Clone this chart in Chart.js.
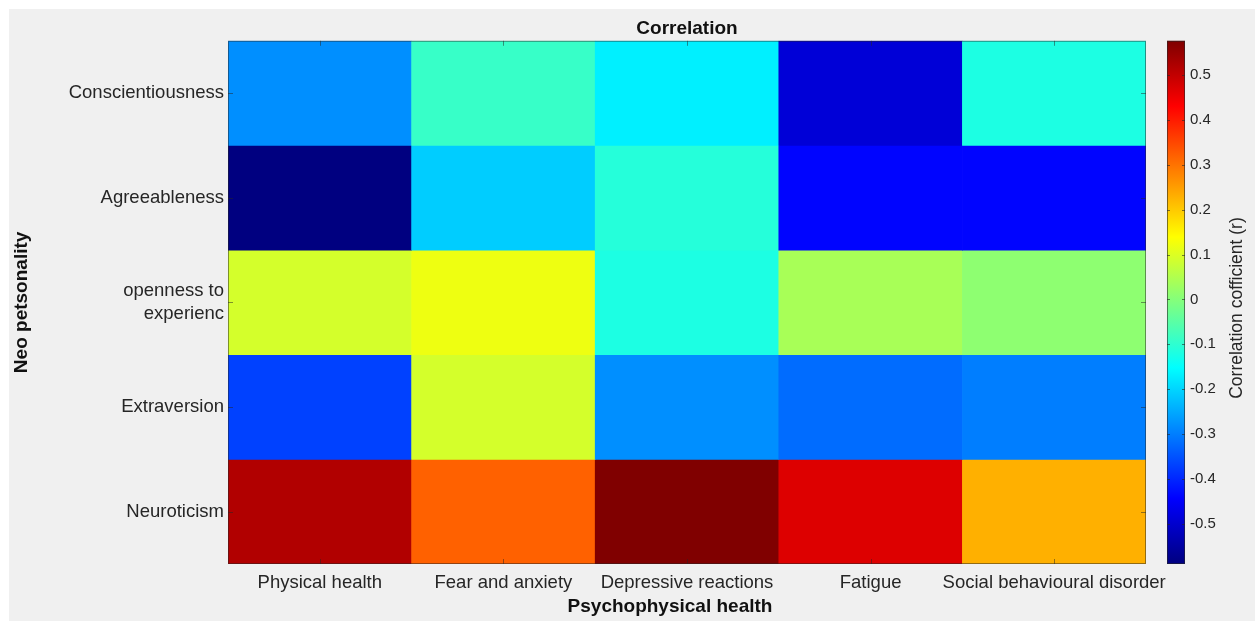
<!DOCTYPE html>
<html>
<head>
<meta charset="utf-8">
<script src="https://cdn.jsdelivr.net/npm/chart.js@4.4.1/dist/chart.umd.min.js"></script>
<style>
  html, body { margin: 0; padding: 0; background: #ffffff; }
  #panel { position: absolute; left: 9px; top: 9px; width: 1246px; height: 612px; background: #f0f0f0; }
  #wrap { position: absolute; left: 0; top: 0; width: 1255px; height: 621px; }
</style>
</head>
<body>
<div id="panel"></div>
<div id="wrap"><canvas id="chart" width="1255" height="621"></canvas></div>
<script>
// Psychophysical health dimensions (columns)
const columns = ["Physical health", "Fear and anxiety", "Depressive reactions", "Fatigue", "Social behavioural disorder"];
// Neo personality traits (rows, top to bottom)
const rowLabels = ["Conscientiousness", "Agreeableness", ["openness to", "experienc"], "Extraversion", "Neuroticism"];

// Correlation coefficients (r), one list per trait, in column order
const conscientiousness = [-0.28, -0.09, -0.17, -0.49, -0.12];
const agreeableness     = [-0.59, -0.21, -0.11, -0.44, -0.44];
const openness          = [ 0.09,  0.12, -0.12,  0.04,  0.01];
const extraversion      = [-0.37,  0.09, -0.28, -0.32, -0.30];
const neuroticism       = [ 0.52,  0.32,  0.577, 0.47,  0.23];

// Colour bar tick labels
const colorbarTicks = [-0.5, -0.4, -0.3, -0.2, -0.1, 0, 0.1, 0.2, 0.3, 0.4, 0.5];

const rowValues = [conscientiousness, agreeableness, openness, extraversion, neuroticism];
const allValues = rowValues.flat();
const cMin = Math.min(...allValues);
const cMax = Math.max(...allValues);

const FONT = "'Liberation Sans', Arial, Helvetica, sans-serif";
const TEXT = '#262626';

// MATLAB-style jet colormap
function jet(v) {
  const t = Math.max(0, Math.min(1, (v - cMin) / (cMax - cMin)));
  const c = x => Math.round(255 * Math.max(0, Math.min(1, x)));
  const r = c(1.5 - Math.abs(4 * t - 3));
  const g = c(1.5 - Math.abs(4 * t - 2));
  const b = c(1.5 - Math.abs(4 * t - 1));
  return `rgb(${r},${g},${b})`;
}

// Each trait is a floating bar band [4-i, 5-i] across every column
const datasets = rowValues.map((vals, i) => ({
  label: Array.isArray(rowLabels[i]) ? rowLabels[i].join(' ') : rowLabels[i],
  data: columns.map(() => [4 - i, 5 - i]),
  backgroundColor: vals.map(v => jet(v)),
  borderWidth: 0,
  grouped: false,
  barPercentage: 1,
  categoryPercentage: 1,
  yAxisID: 'y'
}));

function line(ctx, x0, y0, x1, y1) {
  ctx.beginPath(); ctx.moveTo(x0, y0); ctx.lineTo(x1, y1); ctx.stroke();
}

function noPadding(s) {
  s.paddingTop = 0; s.paddingBottom = 0; s.paddingLeft = 0; s.paddingRight = 0;
}

const decor = {
  id: 'decor',
  afterDatasetsDraw(chart) {
    const { ctx, chartArea: a, scales } = chart;
    ctx.save();
    // axes box and inward ticks
    ctx.strokeStyle = 'rgba(38,38,38,0.5)';
    ctx.lineWidth = 1;
    ctx.strokeRect(a.left + 0.5, a.top + 0.5, a.right - a.left - 1, a.bottom - a.top - 1);
    const tl = 5;
    columns.forEach((c, j) => {
      const x = Math.round(scales.x.getPixelForValue(j)) + 0.5;
      line(ctx, x, a.top, x, a.top + tl);
      line(ctx, x, a.bottom, x, a.bottom - tl);
    });
    rowLabels.forEach((r, i) => {
      const y = Math.round(scales.y.getPixelForValue(4.5 - i)) + 0.5;
      line(ctx, a.left, y, a.left + tl, y);
      line(ctx, a.right, y, a.right - tl, y);
    });

    // colour bar
    const cb = scales.cb;
    const x0 = 1167, x1 = 1185;
    const yTop = cb.getPixelForValue(cMax), yBot = cb.getPixelForValue(cMin);
    const grad = ctx.createLinearGradient(0, yBot, 0, yTop);
    for (let k = 0; k <= 128; k++) {
      const s = k / 128;
      grad.addColorStop(s, jet(cMin + s * (cMax - cMin)));
    }
    ctx.fillStyle = grad;
    ctx.fillRect(x0, yTop, x1 - x0, yBot - yTop);
    ctx.strokeStyle = 'rgba(38,38,38,0.6)';
    ctx.strokeRect(x0 + 0.5, yTop + 0.5, x1 - x0 - 1, yBot - yTop - 1);
    colorbarTicks.forEach(v => {
      const y = Math.round(cb.getPixelForValue(v)) + 0.5;
      line(ctx, x1, y, x1 - 3, y);
      line(ctx, x0, y, x0 + 3, y);
    });

    // colour bar title
    ctx.fillStyle = TEXT;
    ctx.font = `17.5px ${FONT}`;
    ctx.textAlign = 'center';
    ctx.textBaseline = 'middle';
    ctx.save();
    ctx.translate(1237, 308);
    ctx.rotate(-Math.PI / 2);
    ctx.fillText('Correlation cofficient (r)', 0, 0);
    ctx.restore();

    // x axis title
    ctx.fillStyle = '#111';
    ctx.font = `bold 19px ${FONT}`;
    ctx.fillText('Psychophysical health', 670, 607);
    ctx.restore();
  }
};

new Chart(document.getElementById('chart'), {
  type: 'bar',
  data: { labels: columns, datasets },
  plugins: [decor],
  options: {
    responsive: false,
    animation: false,
    devicePixelRatio: 1,
    layout: { padding: { left: 9, right: 0, top: 0, bottom: 0 } },
    plugins: {
      legend: { display: false },
      tooltip: { enabled: false },
      title: {
        display: true,
        text: 'Correlation',
        fullSize: false,
        color: '#111',
        font: { family: FONT, size: 19, weight: 'bold' },
        padding: { top: 17, bottom: 1 }
      }
    },
    scales: {
      x: {
        type: 'category',
        grid: { display: false, drawTicks: false },
        border: { display: false },
        ticks: {
          color: TEXT, autoSkip: false, maxRotation: 0, minRotation: 0, padding: 8,
          font: { family: FONT, size: 18.5 }
        },
        afterFit(s) { s.height = 57; noPadding(s); }
      },
      y: {
        type: 'linear', min: 0, max: 5,
        grid: { display: false, drawTicks: false },
        border: { display: false },
        afterBuildTicks(s) { s.ticks = rowLabels.map((r, i) => ({ value: 4.5 - i })); },
        ticks: {
          color: TEXT, padding: 4,
          font: { family: FONT, size: 18.5 },
          callback: v => rowLabels[Math.round(4.5 - v)]
        },
        title: {
          display: true, text: 'Neo petsonality', color: '#111',
          font: { family: FONT, size: 19, weight: 'bold' },
          padding: { top: 1, bottom: 0 }
        },
        afterFit(s) { s.width = 219; noPadding(s); }
      },
      cb: {
        type: 'linear', position: 'right', min: cMin, max: cMax,
        grid: { display: false, drawTicks: false },
        border: { display: false },
        afterBuildTicks(s) { s.ticks = colorbarTicks.map(v => ({ value: v })); },
        ticks: {
          color: TEXT, padding: 44,
          font: { family: FONT, size: 15 },
          callback: v => String(Math.round(v * 10) / 10)
        },
        afterFit(s) { s.width = 109; noPadding(s); }
      }
    }
  }
});
</script>
</body>
</html>
